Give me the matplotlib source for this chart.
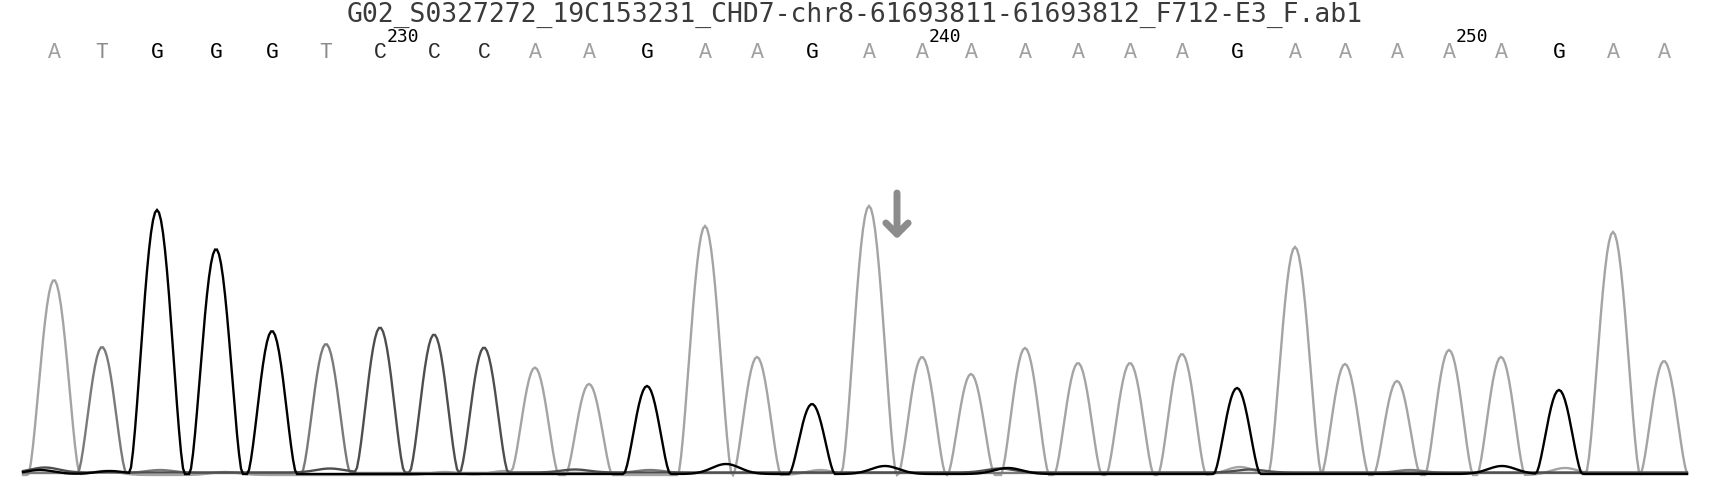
import numpy as np
import matplotlib
matplotlib.use("Agg")
import matplotlib.pyplot as plt

# ---------------- data ----------------
title = "G02_S0327272_19C153231_CHD7-chr8-61693811-61693812_F712-E3_F.ab1"
bases = list("ATGGGTCCCAAGAAGAAAAAAAGAAAAAGAA")
first_base_number = 224
tick_numbers = [230, 240, 250]

# peak (base call) scan positions and peak heights
peak_scan = [54, 102, 157, 216, 272, 326, 380, 434, 484, 535, 589, 647, 705, 757,
             812, 869, 922, 971, 1025, 1078, 1130, 1182, 1237, 1295, 1345, 1397,
             1449, 1501, 1559, 1613, 1664]
peak_height = [195, 126, 264, 225, 143, 129, 145, 138, 125, 107, 91, 88, 249, 118,
               70, 269, 118, 101, 127, 112, 112, 121, 86, 228, 111, 94, 125, 118,
               84, 243, 114]

# small background signals per channel (scan, height)
bg_A_scan = [105, 225, 445, 505, 820, 1240, 1565]
bg_A_height = [4, 3, 3, 4, 5, 8, 7]
bg_C_scan = [45, 330, 575, 1000, 1250]
bg_C_height = [5, 4, 3, 4, 3]
bg_G_scan = [40, 110, 726, 885, 1008, 1502]
bg_G_height = [4, 3, 10, 8, 6, 8]
bg_T_scan = [160, 650, 1410]
bg_T_height = [3, 3, 3]

scan_start, scan_end = 23, 1688
arrow_scan = 897
arrow_top, arrow_tip = 282, 236

# ---------------- styles ----------------
trace_color = {"A": "#a4a4a4", "T": "#7a7a7a", "C": "#4e4e4e", "G": "#000000"}
letter_color = {"A": "#a0a0a0", "T": "#8a8a8a", "C": "#2a2a2a", "G": "#000000"}
baseline_offset = {"A": 0.0, "T": 2.0, "C": 2.5, "G": 1.0}
bg = {"A": (bg_A_scan, bg_A_height), "C": (bg_C_scan, bg_C_height),
      "G": (bg_G_scan, bg_G_height), "T": (bg_T_scan, bg_T_height)}

W, H = 1720, 492
fig = plt.figure(figsize=(W / 100, H / 100), dpi=100)
ax = fig.add_axes([0, 0, 1, 1])
ax.set_xlim(0, W)
ax.set_ylim(-17, 475)
ax.axis("off")


def peak_shape(x, s, h):
    a = 21.0 + 0.024 * h
    d = np.clip(np.abs(x - s) / a, 0, 1)
    return h * np.cos(0.5 * np.pi * d) ** 1.5


x = np.arange(scan_start, scan_end, 2.0)
for ch in ["A", "T", "C", "G"]:
    y = np.full_like(x, baseline_offset[ch], dtype=float)
    for b, s, h in zip(bases, peak_scan, peak_height):
        if b == ch:
            y += peak_shape(x, s, h)
    for s, h in zip(*bg[ch]):
        y += h * np.exp(-0.5 * ((x - s) / 14.0) ** 2)
    ax.plot(x, y, color=trace_color[ch], lw=1.7, solid_joinstyle="miter")

# base calls
for i, (b, s) in enumerate(zip(bases, peak_scan)):
    ax.text(s, 422, b, color=letter_color[b], family="Liberation Mono",
            fontsize=15.5, ha="center", va="center")
    num = first_base_number + i
    if num in tick_numbers:
        ax.text(s + 7, 438, str(num), color="black", family="DejaVu Sans Mono",
                fontsize=13, ha="left", va="center")

ax.text(855, 460, title, color="#3a3a3a", family="DejaVu Sans Mono",
        fontsize=19, ha="center", va="center")

ax.annotate("", xy=(arrow_scan, arrow_tip), xytext=(arrow_scan, arrow_top),
            arrowprops=dict(arrowstyle="->,head_length=0.8,head_width=0.8",
                            lw=5, color="#8c8c8c", shrinkA=0, shrinkB=0))

fig.savefig("out.png", dpi=100)
